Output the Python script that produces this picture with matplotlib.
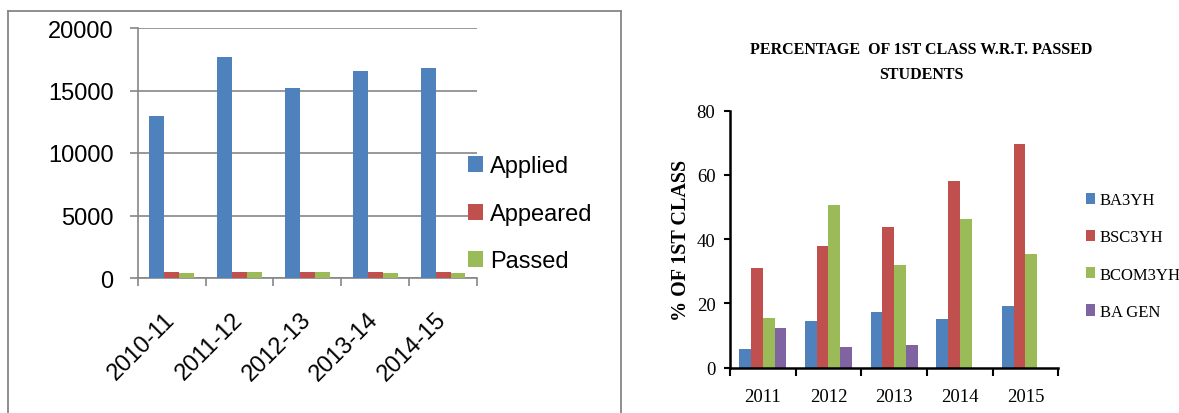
import numpy as np
import matplotlib
matplotlib.use("Agg")
import matplotlib.pyplot as plt
from matplotlib.lines import Line2D

# left chart data
sessions = ["2010-11", "2011-12", "2012-13", "2013-14", "2014-15"]
applied = [12980, 17690, 15230, 16560, 16770]
appeared = [480, 500, 500, 480, 470]
passed = [410, 480, 490, 420, 420]

# right chart data
years = ["2011", "2012", "2013", "2014", "2015"]
ba3yh = [5.8, 14.6, 17.2, 15.1, 19.3]
bsc3yh = [30.9, 37.7, 43.9, 58.2, 69.6]
bcom3yh = [15.4, 50.7, 31.9, 46.2, 35.3]
ba_gen = [12.2, 6.3, 6.9, 0, 0]

BLUE, RED, GREEN, PURPLE = "#4F81BD", "#C0504D", "#9BBB59", "#8064A2"
GRAY = "#868686"
W, H = 1179, 414

fig = plt.figure(figsize=(W / 100, H / 100), dpi=100)


def fx(px):
    return px / W


def fy(py):
    return (H - py) / H


# frame around the left chart
for xs, ys in [([8, 8], [12, 420]), ([8, 621], [12, 12]), ([621, 621], [12, 420])]:
    fig.add_artist(Line2D([fx(v) for v in xs], [fy(v) for v in ys], color=GRAY, lw=1.3))

# ---- left chart ----
sans = "Liberation Sans"
ax1 = fig.add_axes([fx(137.8), fy(279), fx(477) - fx(137.8), 250 / H])
x = np.arange(len(sessions))
bw = 0.22
ax1.bar(x - bw, applied, bw, color=BLUE, label="Applied", zorder=3)
ax1.bar(x, appeared, bw, color=RED, label="Appeared", zorder=3)
ax1.bar(x + bw, passed, bw, color=GREEN, label="Passed", zorder=3)
ax1.set_xlim(-0.5, len(sessions) - 0.5)
ax1.set_ylim(0, 20000)
ax1.set_yticks([0, 5000, 10000, 15000, 20000])
ax1.set_yticklabels(["0", "5000", "10000", "15000", "20000"], fontfamily=sans, fontsize=17)
ax1.yaxis.grid(True, color=GRAY, lw=1.2, zorder=0)
ax1.set_axisbelow(True)
ax1.tick_params(axis="y", length=5.5, width=1.2, color=GRAY, pad=12)
ax1.set_xticks(x)
ax1.set_xticklabels(sessions, fontfamily=sans, fontsize=17, rotation=45,
                    ha="right", va="center", rotation_mode="anchor")
ax1.set_xticks(np.arange(-0.5, len(sessions)), minor=True)
ax1.tick_params(axis="x", which="major", length=0, pad=27)
ax1.tick_params(axis="x", which="minor", length=5.5, width=1.2, color=GRAY)
for s in ["top", "right"]:
    ax1.spines[s].set_visible(False)
for s in ["left", "bottom"]:
    ax1.spines[s].set_color(GRAY)
    ax1.spines[s].set_linewidth(1.2)
ax1.legend(loc="center left", bbox_to_anchor=(fx(468), fy(215)), bbox_transform=fig.transFigure,
           frameon=False, prop={"family": sans, "size": 17}, handlelength=0.64, handleheight=0.64,
           handletextpad=0.3, labelspacing=1.08, borderpad=0, borderaxespad=0)

# ---- right chart ----
serif = "Liberation Serif"
ax2 = fig.add_axes([fx(730), fy(368.5), fx(1058.3) - fx(730), 256.8 / H])
x2 = np.arange(len(years))
bw2 = 0.18
ax2.bar(x2 - 1.5 * bw2, ba3yh, bw2, color=BLUE, label="BA3YH")
ax2.bar(x2 - 0.5 * bw2, bsc3yh, bw2, color=RED, label="BSC3YH")
ax2.bar(x2 + 0.5 * bw2, bcom3yh, bw2, color=GREEN, label="BCOM3YH")
ax2.bar(x2 + 1.5 * bw2, ba_gen, bw2, color=PURPLE, label="BA GEN")
ax2.set_xlim(-0.5, len(years) - 0.5)
ax2.set_ylim(0, 80)
ax2.set_yticks([0, 20, 40, 60, 80])
ax2.set_yticklabels(["0", "20", "40", "60", "80"], fontfamily=serif, fontsize=13.5)
ax2.tick_params(axis="y", length=4.5, width=1.5, color="black", pad=6)
ax2.set_xticks(x2)
ax2.set_xticklabels(years, fontfamily=serif, fontsize=13.5)
ax2.set_xticks(np.arange(-0.5, len(years)), minor=True)
ax2.tick_params(axis="x", which="major", length=0, pad=15)
ax2.tick_params(axis="x", which="minor", length=6, width=1.5, color="black")
for s in ["top", "right"]:
    ax2.spines[s].set_visible(False)
for s in ["left", "bottom"]:
    ax2.spines[s].set_linewidth(1.8)
ax2.legend(loc="center left", bbox_to_anchor=(fx(1086), fy(257)), bbox_transform=fig.transFigure,
           frameon=False, prop={"family": serif, "size": 12}, handlelength=0.54, handleheight=0.68,
           handletextpad=0.28, labelspacing=1.27, borderpad=0, borderaxespad=0)

fig.text(fx(921), fy(50), "PERCENTAGE  OF 1ST CLASS W.R.T. PASSED", ha="center", va="center",
         fontfamily=serif, fontweight="bold", fontsize=11.5)
fig.text(fx(921), fy(75), "STUDENTS", ha="center", va="center",
         fontfamily=serif, fontweight="bold", fontsize=11.5)
fig.text(fx(681), fy(240), "% OF 1ST CLASS", ha="center", va="center", rotation=90,
         fontfamily=serif, fontweight="bold", fontsize=14.5)

fig.savefig("out.png", dpi=100)
